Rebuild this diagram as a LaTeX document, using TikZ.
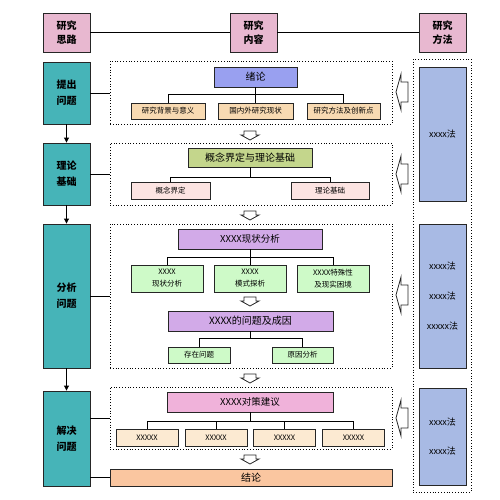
\documentclass[tikz,border=0pt]{standalone}
\usepackage{fontspec}
\setmainfont{Noto Sans CJK SC}
\usetikzlibrary{arrows.meta}

\definecolor{toupink}{RGB}{232,184,208}
\definecolor{lanlv}{RGB}{70,180,184}
\definecolor{xulan}{RGB}{153,160,240}
\definecolor{tanse}{RGB}{248,218,178}
\definecolor{ganlan}{RGB}{196,214,140}
\definecolor{qianfen}{RGB}{252,228,226}
\definecolor{zise}{RGB}{210,170,232}
\definecolor{qianlv}{RGB}{206,250,200}
\definecolor{fenhong}{RGB}{240,178,218}
\definecolor{mise}{RGB}{252,234,210}
\definecolor{cheng}{RGB}{250,198,160}
\definecolor{falan}{RGB}{168,186,228}

\tikzset{
  kuang/.style={draw=black!85, line width=0.9pt, inner sep=0pt, align=center},
  sz/.style 2 args={minimum width=#1, minimum height=#2},
  biaoti/.style={kuang, fill=toupink, font=\fontsize{10}{14}\selectfont\bfseries},
  silu/.style={kuang, fill=lanlv, font=\fontsize{10}{16}\selectfont\bfseries},
  xukuang/.style={draw, dotted, line width=0.8pt, inner sep=0pt},
  dahe/.style={kuang, font=\fontsize{9.5}{12}\selectfont},
  xiaohe/.style={kuang, font=\fontsize{7.5}{12}\selectfont},
  fangfa/.style={kuang, fill=falan, font=\fontsize{9}{30}\selectfont},
  jian/.style={-{Triangle[length=5pt,width=5pt]}, line width=0.9pt},
  lian/.style={line width=0.9pt},
  kong/.style={draw=black!85, line width=0.8pt, fill=white}
}

% hollow arrows
\newcommand{\xiaJian}[1]{\draw[kong] (#1) ++(-6,0) -- ++(12,0) -- ++(0,4) -- ++(3,0) -- ++(-9,5) -- ++(-9,-5) -- ++(3,0) -- cycle;}
\newcommand{\zuoJian}[1]{\draw[kong] (#1) -- ++(5,-18) -- ++(0,8) -- ++(7,0) -- ++(0,20) -- ++(-7,0) -- ++(0,8) -- cycle;}

\begin{document}
\begin{tikzpicture}[x=1pt,y=-1pt]
  \useasboundingbox (0,0) rectangle (500,500);

  % header
  \node[biaoti, sz={47}{39}] (siLu) at (66.5,32.5) {研究\\思路};
  \node[biaoti, sz={47}{39}] (neiRong) at (253.5,32.5) {研究\\内容};
  \node[biaoti, sz={47}{39}] (fangFa) at (442.5,32.5) {研究\\方法};
  \draw[lian] (siLu) -- (neiRong) -- (fangFa);

  % left column
  \node[silu, sz={47}{62}] (tiChu) at (66.5,93) {提出\\问题};
  \node[silu, sz={47}{62}] (liLun) at (66.5,174) {理论\\基础};
  \node[silu, sz={47}{144}] (fenXi) at (66.5,296) {分析\\问题};
  \node[silu, sz={47}{95}] (jieJue) at (66.5,438.5) {解决\\问题};
  \draw[jian] (tiChu) -- (liLun);
  \draw[jian] (liLun) -- (fenXi);
  \draw[jian] (fenXi) -- (jieJue);

  % dotted frames
  \node[xukuang, sz={282}{63}] (kuang1) at (251,92.5) {};
  \node[xukuang, sz={282}{62}] (kuang2) at (251,174) {};
  \node[xukuang, sz={282}{144}] (kuang3) at (251,296) {};
  \node[xukuang, sz={282}{62}] (kuang4) at (251,418) {};
  \node[dahe, fill=cheng, sz={282}{17}, font=\fontsize{10}{12}\selectfont] (jieLun) at (251,477.5) {结论};
  \node[xukuang, sz={58}{433}] (faKuang) at (442,275.5) {};

  \draw[lian] (tiChu.east) -- (tiChu.east -| kuang1.west);
  \draw[lian] (liLun.east) -- (liLun.east -| kuang2.west);
  \draw[lian] (fenXi.east) -- (fenXi.east -| kuang3.west);
  \draw[lian] (jieJue.east |- kuang4.west) -- (kuang4.west);
  \draw[lian] (jieJue.east |- jieLun.west) -- (jieLun.west);

  % part 1
  \node[dahe, fill=xulan, sz={83}{20}, font=\fontsize{10}{12}\selectfont] (xuLun) at (255.5,77) {绪论};
  \node[xiaohe, fill=tanse, sz={74}{16}] (beiJing) at (168,111) {研究背景与意义};
  \node[xiaohe, fill=tanse, sz={75}{16}] (xianZhuang) at (255.5,111) {国内外研究现状};
  \node[xiaohe, fill=tanse, sz={73}{16}] (chuangXin) at (343.5,111) {研究方法及创新点};
  \draw[lian] (xuLun.south) -- ++(0,7) coordinate (j1);
  \draw[lian] (beiJing.north) |- (j1) -| (chuangXin.north);
  \draw[lian] (j1) -- (xianZhuang.north);

  % part 2
  \node[dahe, fill=ganlan, sz={124}{19}, font=\fontsize{10}{12}\selectfont] (gaiNian) at (250,157.5) {概念界定与理论基础};
  \node[xiaohe, fill=qianfen, sz={79}{17}] (jieDing) at (170.5,190.5) {概念界定};
  \node[xiaohe, fill=qianfen, sz={78}{17}] (jiChu) at (330,190.5) {理论基础};
  \draw[lian] (gaiNian.south) -- ++(0,10) coordinate (j2);
  \draw[lian] (jieDing.north) |- (j2) -| (jiChu.north);

  % part 3
  \node[dahe, fill=zise, sz={144}{20}] (xzFenXi) at (250,239) {XXXX现状分析};
  \node[xiaohe, fill=qianlv, sz={72}{27}] (xz1) at (167,278.5) {XXXX\\现状分析};
  \node[xiaohe, fill=qianlv, sz={72}{27}] (xz2) at (250,278.5) {XXXX\\模式探析};
  \node[xiaohe, fill=qianlv, sz={72}{27}] (xz3) at (333,278.5) {XXXX特殊性\\及现实困境};
  \draw[lian] (xzFenXi.south) -- ++(0,8) coordinate (j3);
  \draw[lian] (xz1.north) |- (j3) -| (xz3.north);
  \draw[lian] (j3) -- (xz2.north);
  \node[dahe, fill=zise, sz={165}{20}, font=\fontsize{10}{12}\selectfont] (wenTi) at (250.5,321) {XXXX的问题及成因};
  \node[xiaohe, fill=qianlv, sz={62}{16}] (cunZai) at (199,355) {存在问题};
  \node[xiaohe, fill=qianlv, sz={61}{16}] (yuanYin) at (302.5,355) {原因分析};
  \draw[lian] (wenTi.south) -- ++(0,7) coordinate (j4);
  \draw[lian] (cunZai.north) |- (j4) -| (yuanYin.north);

  % part 4
  \node[dahe, fill=fenhong, sz={166}{20}] (duiCe) at (250,402) {XXXX对策建议};
  \node[xiaohe, fill=mise, sz={62}{17}] (dc1) at (147,437.5) {XXXXX};
  \node[xiaohe, fill=mise, sz={62}{17}] (dc2) at (216,437.5) {XXXXX};
  \node[xiaohe, fill=mise, sz={62}{17}] (dc3) at (284.5,437.5) {XXXXX};
  \node[xiaohe, fill=mise, sz={62}{17}] (dc4) at (353.5,437.5) {XXXXX};
  \draw[lian] (duiCe.south) -- ++(0,9) coordinate (j5);
  \draw[lian] (dc1.north) |- (j5) -| (dc4.north);
  \draw[lian] (dc2.north) -- (dc2.north |- j5);
  \draw[lian] (dc3.north) -- (dc3.north |- j5);

  % methods
  \node[fangfa, sz={47}{134}] (fa1) at (442.5,134) {xxxx法};
  \node[fangfa, sz={47}{144}] (fa2) at (442.5,296) {xxxx法\\xxxx法\\xxxxx法};
  \node[fangfa, sz={47}{97}, font=\fontsize{9}{29}\selectfont] (fa3) at (442.5,436.5) {xxxx法\\xxxx法};

  % hollow arrows
  \xiaJian{250,131}
  \xiaJian{250,211}
  \xiaJian{250,297}
  \xiaJian{250,374}
  \xiaJian{250,455}
  \zuoJian{396,92}
  \zuoJian{396,174}
  \zuoJian{396,295}
  \zuoJian{396,418}
\end{tikzpicture}
\end{document}
